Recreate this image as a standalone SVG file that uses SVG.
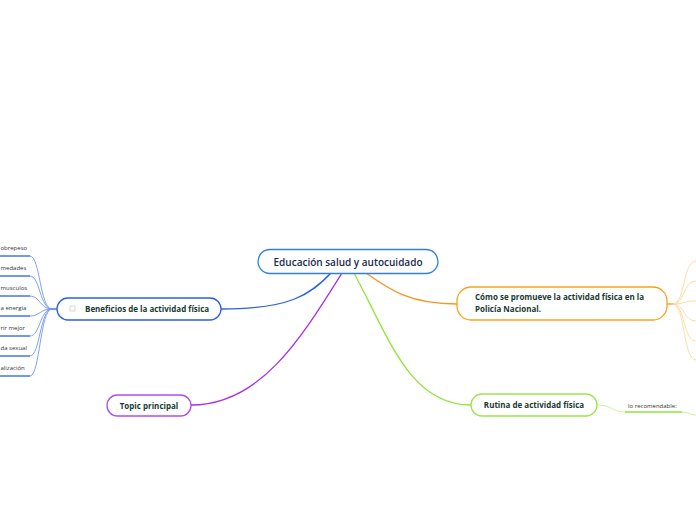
<svg xmlns="http://www.w3.org/2000/svg" width="696" height="520" viewBox="0 0 696 520">
<style>
.t{font-family:"Open Sans","Noto Sans",sans-serif;font-weight:700;fill:#173a33}
.node{fill:#fff;stroke-width:1.3}
.leaf{font-family:"Open Sans","Noto Sans",sans-serif;font-size:6px;fill:#333}
.c{fill:none}
</style>
<rect width="696" height="520" fill="#fff"/>
<g id="connectors">
<path class="c" d="M331 273 C310 295 290 309 221 309" stroke="#2a5fe6" stroke-width="1.3"/>
<path class="c" d="M342 273 C300 340 260 405 191 405" stroke="#a62ff0" stroke-width="1.3"/>
<path class="c" d="M354 273 C390 340 410 405 471 405" stroke="#8ee63a" stroke-width="1.3"/>
<path class="c" d="M366 273 C390 290 410 304 457 304" stroke="#f7941d" stroke-width="1.3"/>
<g stroke="#6f95f5" stroke-width="0.9" fill="none">
<path d="M52 309 C40 309 40 256 30 256"/>
<path d="M52 309 C40 309 40 276 30 276"/>
<path d="M52 309 C40 309 40 296 30 296"/>
<path d="M52 309 C40 309 40 316 30 316"/>
<path d="M52 309 C40 309 40 336 30 336"/>
<path d="M52 309 C40 309 40 356 30 356"/>
<path d="M52 309 C40 309 40 376 30 376"/>
</g>
<g stroke="#2a5fe6" stroke-width="1.3">
<line x1="0" y1="256" x2="30" y2="256"/>
<line x1="0" y1="276" x2="30" y2="276"/>
<line x1="0" y1="296" x2="30" y2="296"/>
<line x1="0" y1="316" x2="30" y2="316"/>
<line x1="0" y1="336" x2="30" y2="336"/>
<line x1="0" y1="356" x2="30" y2="356"/>
<line x1="0" y1="376" x2="30" y2="376"/>
</g>
<line x1="52" y1="309" x2="57" y2="309" stroke="#2a5fe6" stroke-width="1.3"/>
<line x1="667" y1="304" x2="673" y2="304" stroke="#f7941d" stroke-width="1.3"/>
<g stroke="#ffd79e" stroke-width="0.9" fill="none">
<path d="M673 304 C685 304 683 261 696 261"/>
<path d="M673 304 C685 304 683 281 696 281"/>
<path d="M673 304 C685 304 683 301 696 301"/>
<path d="M673 304 C685 304 683 321 696 321"/>
<path d="M673 304 C685 304 683 341 696 341"/>
<path d="M673 304 C685 304 683 360 696 360"/>
</g>
<path class="c" d="M597 405 C612 405 612 412 625 412" stroke="#c6f08e" stroke-width="0.9"/>
<line x1="625" y1="412" x2="682" y2="412" stroke="#8ee63a" stroke-width="1.3"/>
<path class="c" d="M682 412 C689 412 690 415 696 415" stroke="#c6f08e" stroke-width="0.9"/>
</g>
<g id="leaves">
<text class="leaf" x="0.5" y="250">obrepeso</text>
<text class="leaf" x="0.5" y="270">medades</text>
<text class="leaf" x="0.5" y="290">musculos</text>
<text class="leaf" x="0.5" y="310">a energía</text>
<text class="leaf" x="0.5" y="330">rir mejor</text>
<text class="leaf" x="0.5" y="350">da sexual</text>
<text class="leaf" x="0.5" y="370">alización</text>
</g>
<g id="central">
<rect class="node" x="258" y="249.5" width="180" height="24" rx="12" stroke="#2f7fe0"/>
<text class="t" x="348" y="265.5" font-size="10" text-anchor="middle" style="fill:#1c2b4d;font-weight:600">Educación salud y autocuidado</text>
</g>
<g id="beneficios">
<rect class="node" x="57" y="298" width="164" height="22" rx="11" stroke="#2a5fe6"/>
<rect x="70" y="306" width="5" height="5" fill="none" stroke="#c8c8c8" stroke-width="0.7"/>
<text class="t" x="85" y="312" font-size="8">Beneficios de la actividad física</text>
</g>
<g id="promueve">
<rect class="node" x="457" y="287" width="210" height="33" rx="14" stroke="#f7a21d"/>
<text class="t" x="475" y="300" font-size="8">Cómo se promueve la actividad física en la</text>
<text class="t" x="475" y="312" font-size="8">Policía Nacional.</text>
</g>
<g id="rutina">
<rect class="node" x="471" y="394" width="126" height="22" rx="11" stroke="#9ae64a"/>
<text class="t" x="534" y="408" font-size="8" text-anchor="middle">Rutina de actividad física</text>
</g>
<g id="recomendable">
<text class="leaf" x="628" y="408">lo recomendable:</text>
</g>
<g id="topic">
<rect class="node" x="107" y="395" width="84" height="21" rx="10.5" stroke="#b04cf2"/>
<text class="t" x="149" y="408.5" font-size="8" text-anchor="middle">Topic principal</text>
</g>
</svg>
